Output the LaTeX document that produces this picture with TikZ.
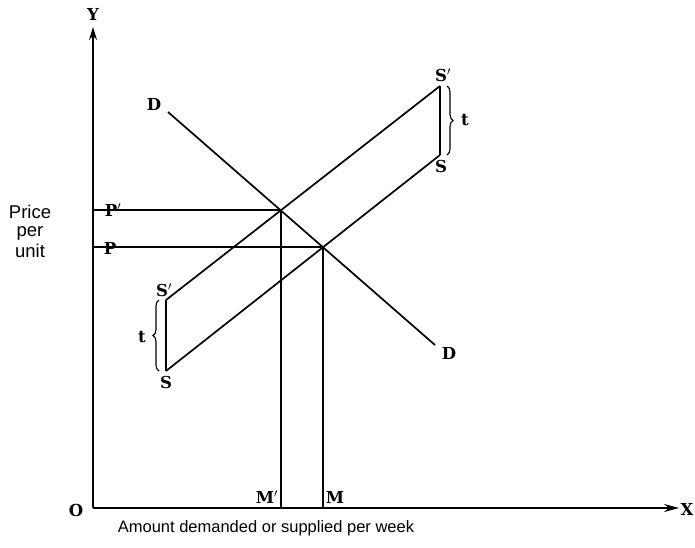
\documentclass[tikz,border=0pt]{standalone}
\usepackage{fontspec}
\newfontfamily\handfont{Liberation Sans}
\newfontfamily\lblfont{DejaVu Serif}
\usetikzlibrary{arrows.meta,decorations.pathreplacing}
\begin{document}
\begin{tikzpicture}[x=1pt,y=-1pt,
  ln/.style={line width=1.7pt},
  lbl/.style={font=\lblfont\bfseries\fontsize{16.5}{16.5}\selectfont,inner sep=0pt},
  hand/.style={font=\handfont\fontsize{16.5}{18}\selectfont,inner sep=0pt},
  hand2/.style={font=\handfont\fontsize{18.5}{20}\selectfont,inner sep=0pt,anchor=base},
  br/.style={decorate,decoration={brace,amplitude=6pt},line width=1.1pt}]
\useasboundingbox (0,0) rectangle (695,547);
% axes
\coordinate (O) at (93,508);
\coordinate (Ytip) at (93,27);
\coordinate (Xtip) at (679,508);
\draw[ln,-{Stealth[length=13pt,width=8pt]}] (O) -- (Ytip);
\draw[ln,-{Stealth[length=15pt,width=8pt]}] (O) -- (Xtip);
\node[lbl] (Ylab) at (93,14) {Y};
\node[lbl] (Xlab) at (687,509) {X};
\node[lbl] (Olab) at (76,510) {O};
% demand
\coordinate (D1) at (168,112);
\coordinate (D2) at (435,345);
\draw[ln] (D1) -- (D2);
\node[lbl] (Dl1) at (154,104) {D};
\node[lbl] (Dl2) at (449,353) {D};
% supply with tax
\coordinate (Sa1) at (166,300);
\coordinate (Sa2) at (440,86);
\coordinate (Sb1) at (166,371);
\coordinate (Sb2) at (440,155);
\draw[ln] (Sa1) -- (Sa2);
\draw[ln] (Sb1) -- (Sb2);
\draw[ln] (Sa1) -- (Sb1);
\draw[ln] (Sa2) -- (Sb2);
\node[lbl] (Sl1) at (164,290) {S$^{\prime}$};
\node[lbl] (Sl2) at (443,75) {S$^{\prime}$};
\node[lbl] (Sl3) at (166,382) {S};
\node[lbl] (Sl4) at (441,166) {S};
% braces
\draw[br] (159,371) -- (159,300);
\draw[br] (447,86) -- (447,155);
\node[lbl] (t1) at (142,337) {t};
\node[lbl] (t2) at (465,120) {t};
% equilibria
\coordinate (E1) at (281,210);
\coordinate (E2) at (323,247);
\coordinate (Pp) at (93,210);
\coordinate (P) at (93,247);
\coordinate (Mp) at (281,508);
\coordinate (M) at (323,508);
\draw[ln] (Pp) -- (E1) -- (Mp);
\draw[ln] (P) -- (E2) -- (M);
\node[lbl] (Ppl) at (113,210) {P$^{\prime}$};
\node[lbl] (Pl) at (110,248) {P};
\node[lbl] (Mpl) at (267,497) {M$^{\prime}$};
\node[lbl] (Ml) at (335,497) {M};
% texts
\node[hand2] (price) at (30,218) {Price};
\node[hand2] (per) at (30,236) {per};
\node[hand2] (unit) at (30,257) {unit};
\node[hand] (amount) at (266,528) {Amount demanded or supplied per week};
\end{tikzpicture}
\end{document}
